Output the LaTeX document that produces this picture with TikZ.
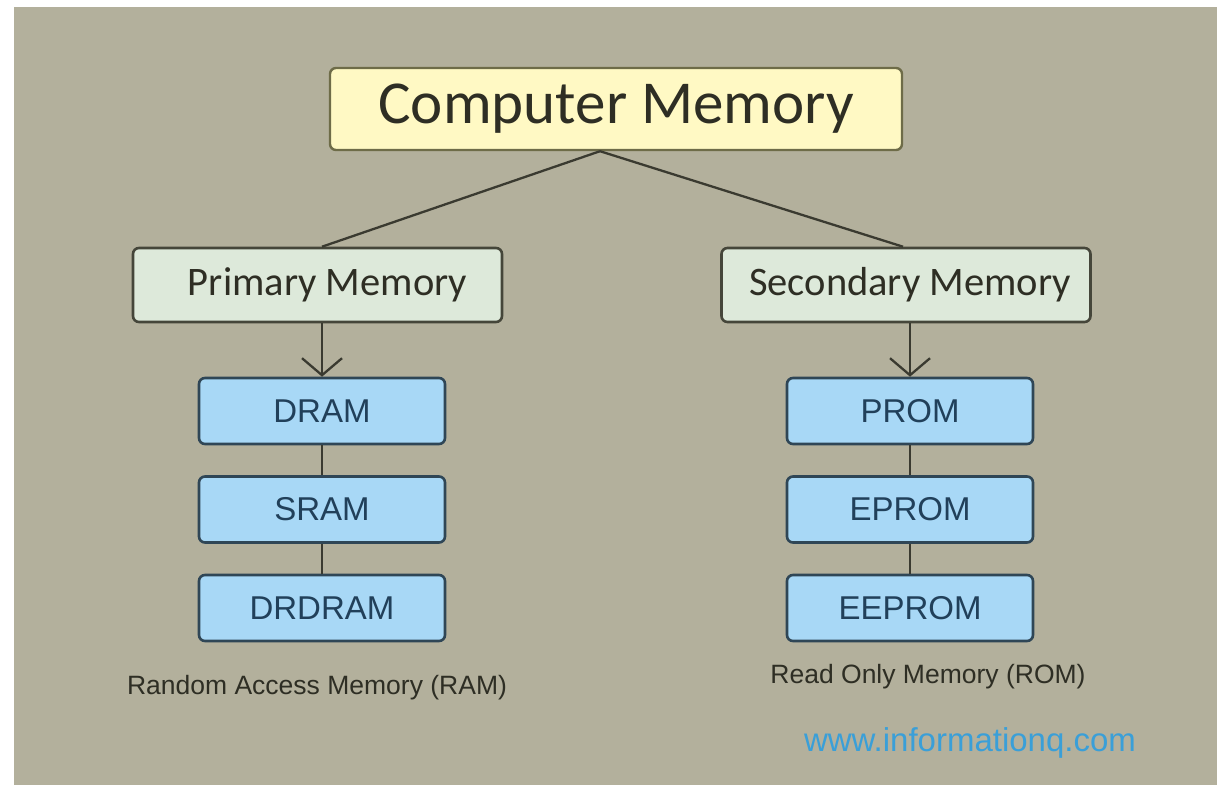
\documentclass[tikz,border=0pt]{standalone}
\usepackage{fontspec}
\setmainfont{Liberation Sans}
\newfontfamily\calib{Carlito}
\usetikzlibrary{arrows.meta}
\definecolor{bggray}{HTML}{B3B09C}
\definecolor{yelfill}{HTML}{FFF9C4}
\definecolor{yelline}{HTML}{6E6C48}
\definecolor{mintfill}{HTML}{DDE9DA}
\definecolor{mintline}{HTML}{45463A}
\definecolor{bluefill}{HTML}{A8D8F6}
\definecolor{blueline}{HTML}{2F4656}
\definecolor{bluetext}{HTML}{21405A}
\definecolor{darktext}{HTML}{2E2E24}
\definecolor{linkblue}{HTML}{3A9FD8}
\definecolor{conn}{HTML}{3A3A30}
\begin{document}
\begin{tikzpicture}[x=1pt,y=-1pt,
  topbox/.style={draw=yelline,fill=yelfill,line width=2.4pt,rounded corners=6pt,
    minimum width=572pt,minimum height=82pt,inner sep=0pt,
    font=\calib\fontsize{61}{61}\selectfont,text=darktext},
  midbox/.style={draw=mintline,fill=mintfill,line width=2.6pt,rounded corners=6pt,
    minimum width=369pt,minimum height=74pt,inner sep=0pt,
    font=\calib\fontsize{40.5}{40.5}\selectfont,text=darktext},
  memcell/.style={draw=blueline,fill=bluefill,line width=2.6pt,rounded corners=6pt,
    minimum width=246pt,minimum height=66pt,inner sep=0pt,
    font=\fontsize{33}{33}\selectfont,text=bluetext},
  caption/.style={font=\fontsize{26.5}{26.5}\selectfont,text=darktext,inner sep=0pt},
  link/.style={draw=conn,line width=2.3pt}
]
\useasboundingbox (0,0) rectangle (1217,785);
\fill[white] (0,0) rectangle (1217,785);
\fill[bggray] (14,7) rectangle (1217,785);

\node[topbox] (CM) at (616,109) {Computer Memory};
\node[midbox] (PM) at (317.5,285) {\hspace*{20pt}Primary Memory};
\node[midbox] (SM) at (906,285) {\hspace*{8pt}Secondary Memory};

\node[memcell] (DRAM) at (322,411) {DRAM};
\node[memcell] (SRAM) at (322,509.5) {SRAM};
\node[memcell] (DRDRAM) at (322,608) {DRDRAM};

\node[memcell] (PROM) at (910,411) {PROM};
\node[memcell] (EPROM) at (910,509.5) {EPROM};
\node[memcell] (EEPROM) at (910,608) {EEPROM};

\node[caption] (RAMcap) at (317,688) {Random Access Memory (RAM)};
\node[caption] (ROMcap) at (928,677) {Read Only Memory (ROM)};
\node[font=\fontsize{33}{33}\selectfont,text=linkblue,inner sep=0pt] (web) at (970,743) {www.informationq.com};

\coordinate (join) at ([xshift=-16pt]CM.south);
\draw[link] (join) -- (PM.north -| DRAM.north);
\draw[link] (join) -- (SM.north -| 903,0);

\draw[link,-{Straight Barb[length=17pt,width=40pt,line width=2.3pt]}] (PM.south -| DRAM.north) -- (DRAM.north);
\draw[link,-{Straight Barb[length=17pt,width=40pt,line width=2.3pt]}] (SM.south -| PROM.north) -- (PROM.north);

\draw[link] (DRAM) -- (SRAM);
\draw[link] (SRAM) -- (DRDRAM);
\draw[link] (PROM) -- (EPROM);
\draw[link] (EPROM) -- (EEPROM);
\end{tikzpicture}
\end{document}
